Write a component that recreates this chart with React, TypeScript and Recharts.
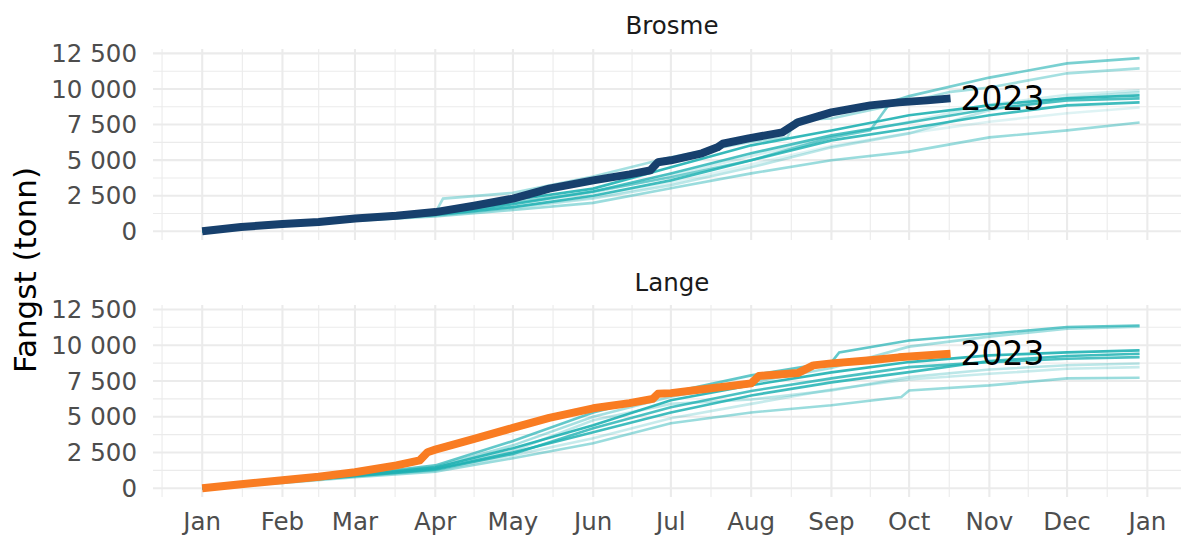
import { CartesianGrid, LabelList, Line, LineChart, XAxis, YAxis } from "recharts";

type Pt = [number, number];

// x = day of year, y = cumulative catch in tonnes
const monthTicks = [0, 31, 59, 90, 120, 151, 181, 212, 243, 273, 304, 334, 365];
const monthLabels = ["Jan", "Feb", "Mar", "Apr", "May", "Jun", "Jul", "Aug", "Sep", "Oct", "Nov", "Dec", "Jan"];
const yTicks = [0, 2500, 5000, 7500, 10000, 12500];

const brosme2023: Pt[] = [
  [0, 0], [15, 300], [31, 520], [45, 650], [59, 900], [75, 1100], [90, 1350], [105, 1800],
  [120, 2300], [134, 3000], [151, 3580], [165, 4000], [173, 4280], [176, 4850], [181, 4990],
  [193, 5480], [199, 5900], [201, 6150], [211, 6530], [224, 6950], [230, 7650], [243, 8360],
  [258, 8850], [269, 9060], [280, 9200], [289, 9340],
];

const brosmeA: Pt[] = [[0, 0], [31, 450], [59, 850], [90, 1250], [120, 2000], [151, 2800], [181, 3800], [212, 5000], [243, 6600], [258, 7100], [266, 9100], [273, 9500], [304, 10800], [334, 11800], [362, 12170]];
const brosmeB: Pt[] = [[0, 0], [31, 500], [59, 900], [90, 1300], [93, 2300], [120, 2700], [151, 3850], [181, 5200], [212, 6300], [226, 6600], [229, 7800], [243, 7930], [273, 9100], [289, 9800], [304, 10100], [334, 11100], [362, 11450]];
const brosmeC: Pt[] = [[0, 0], [31, 480], [59, 880], [90, 1300], [120, 2200], [151, 3000], [181, 4500], [212, 6040], [243, 7090], [273, 8150], [304, 8850], [334, 9350], [362, 9550]];
const brosmeD: Pt[] = [[0, 0], [31, 450], [59, 820], [90, 1200], [120, 1900], [151, 2800], [181, 4070], [212, 5480], [243, 6740], [273, 7650], [304, 8600], [334, 9200], [362, 9340]];
const brosmeE: Pt[] = [[0, 0], [31, 420], [59, 800], [90, 1150], [120, 1700], [151, 2500], [181, 3580], [212, 4990], [243, 6390], [273, 7230], [304, 8150], [334, 8850], [362, 9060]];
const brosmeF: Pt[] = [[0, 0], [31, 400], [59, 780], [90, 1100], [120, 1650], [151, 2300], [181, 3230], [212, 4500], [243, 5900], [273, 6880], [304, 8500], [334, 9400], [362, 9760]];
const brosmeG: Pt[] = [[0, 0], [31, 430], [59, 800], [90, 1150], [120, 1700], [151, 2400], [181, 3400], [212, 4700], [243, 6000], [273, 6900], [304, 7700], [334, 8300], [362, 8700]];
const brosmeH: Pt[] = [[0, 0], [31, 380], [59, 750], [90, 1050], [120, 1500], [151, 2000], [181, 3020], [212, 4070], [243, 4990], [273, 5600], [304, 6600], [334, 7090], [362, 7650]];
const brosmeI: Pt[] = [[0, 0], [31, 470], [59, 850], [90, 1250], [120, 1900], [151, 2700], [181, 3900], [212, 5300], [243, 6600], [273, 7700], [304, 8900], [334, 9600], [362, 9900]];

const lange2023: Pt[] = [
  [0, 0], [15, 280], [31, 560], [45, 800], [59, 1120], [75, 1600], [84, 1950], [87, 2520],
  [90, 2700], [105, 3450], [120, 4220], [134, 4920], [151, 5590], [165, 5950], [174, 6250],
  [176, 6600], [181, 6650], [195, 6950], [212, 7330], [215, 7850], [230, 8050], [236, 8590],
  [243, 8730], [258, 8950], [269, 9150], [289, 9400],
];

const langeA: Pt[] = [[0, 0], [31, 480], [59, 950], [90, 1600], [120, 3300], [151, 5300], [181, 6700], [212, 7890], [243, 8800], [246, 9500], [273, 10330], [304, 10800], [334, 11270], [362, 11380]];
const langeB: Pt[] = [[0, 0], [31, 460], [59, 920], [90, 1500], [120, 3000], [151, 5000], [181, 6400], [212, 7400], [243, 8400], [273, 9900], [304, 10600], [334, 11150], [362, 11300]];
const langeC: Pt[] = [[0, 0], [31, 450], [59, 900], [90, 1450], [120, 2800], [151, 4400], [181, 6150], [212, 7200], [243, 8100], [273, 8820], [304, 9290], [334, 9500], [362, 9640]];
const langeD: Pt[] = [[0, 0], [31, 430], [59, 870], [90, 1350], [120, 2500], [151, 3910], [181, 5300], [212, 6490], [243, 7400], [273, 8120], [304, 8900], [334, 9250], [362, 9400]];
const langeE: Pt[] = [[0, 0], [31, 420], [59, 850], [90, 1300], [120, 2400], [151, 4200], [181, 5660], [212, 6800], [243, 7680], [273, 8470], [304, 8820], [334, 9050], [362, 9170]];
const langeF: Pt[] = [[0, 0], [31, 440], [59, 880], [90, 1400], [120, 2600], [151, 4750], [181, 5900], [212, 6200], [243, 6840], [273, 7770], [304, 8300], [334, 8600], [362, 8720]];
const langeG: Pt[] = [[0, 0], [31, 410], [59, 830], [90, 1250], [120, 2300], [151, 3490], [181, 4890], [212, 5900], [243, 6900], [273, 7600], [304, 8000], [334, 8350], [362, 8470]];
const langeH: Pt[] = [[0, 0], [31, 380], [59, 780], [90, 1150], [120, 2100], [151, 3140], [181, 4540], [212, 5300], [243, 5800], [270, 6380], [273, 6840], [304, 7190], [334, 7680], [362, 7730]];

// opacities of the earlier years, same order as the arrays
const brosmeHist = [brosmeA, brosmeB, brosmeC, brosmeD, brosmeE, brosmeF, brosmeG, brosmeH, brosmeI];
const brosmeAlpha = [0.6, 0.4, 0.9, 0.8, 0.85, 0.3, 0.15, 0.45, 0.2];
const langeHist = [langeA, langeB, langeC, langeD, langeE, langeF, langeG, langeH];
const langeAlpha = [0.7, 0.4, 0.9, 0.85, 0.8, 0.3, 0.25, 0.45];

const FONT = "DejaVu Sans, sans-serif";
const TEAL = "#1fb1b3";
const GRID = "#ebebeb";
const X_DOMAIN = [-19, 378];
const Y_DOMAIN = [-610, 12810];

const minorX = [monthTicks[0] - 15.5, ...monthTicks.slice(1).map((d, i) => (d + monthTicks[i]) / 2)];
const minorY = yTicks.slice(1).map((v, i) => (v + yTicks[i]) / 2);

const toRows = (pts: Pt[]) => pts.map(([day, tonn]) => ({ day, tonn }));
const fmt = (v: number) => String(v).replace(/\B(?=(\d{3})+(?!\d))/g, " ");

type PanelProps = {
  hist: Pt[][];
  alpha: number[];
  current: Pt[];
  color: string;
  height: number;
  margin: { top: number; right: number; bottom: number; left: number };
  showX: boolean;
};

const Panel = ({ hist, alpha, current, color, height, margin, showX }: PanelProps) => {
  const cur = toRows(current);
  return (
    <LineChart width={1187} height={height} margin={margin}>
      <CartesianGrid
        stroke={GRID}
        strokeWidth={1.1}
        verticalValues={minorX}
        horizontalValues={minorY}
      />
      <CartesianGrid
        stroke={GRID}
        strokeWidth={2.1}
        verticalValues={monthTicks}
        horizontalValues={yTicks}
      />
      <XAxis
        dataKey="day"
        type="number"
        domain={X_DOMAIN}
        ticks={monthTicks}
        interval={0}
        allowDataOverflow
        hide={!showX}
        height={38}
        axisLine={false}
        tickLine={false}
        tickSize={0}
        tickMargin={16}
        tickFormatter={(v: number) => monthLabels[monthTicks.indexOf(v)]}
        tick={{ fill: "#4d4d4d", fontSize: 24.5, fontFamily: FONT }}
      />
      <YAxis
        type="number"
        domain={Y_DOMAIN}
        ticks={yTicks}
        interval={0}
        allowDataOverflow
        width={153}
        axisLine={false}
        tickLine={false}
        tickSize={0}
        tickMargin={16}
        tickFormatter={fmt}
        tick={{ fill: "#4d4d4d", fontSize: 24.5, fontFamily: FONT }}
      />
      {hist.map((pts, i) => (
        <Line
          key={i}
          data={toRows(pts)}
          dataKey="tonn"
          type="linear"
          stroke={TEAL}
          strokeOpacity={alpha[i]}
          strokeWidth={2.6}
          dot={false}
          activeDot={false}
          isAnimationActive={false}
        />
      ))}
      <Line
        data={cur}
        dataKey="tonn"
        type="linear"
        stroke={color}
        strokeWidth={8}
        strokeLinejoin="round"
        dot={false}
        activeDot={false}
        isAnimationActive={false}
      >
        <LabelList
          dataKey="tonn"
          content={(p: any) =>
            p.index === cur.length - 1 ? (
              <text
                x={p.x + 10}
                y={p.y}
                dominantBaseline="central"
                fontSize={33}
                fontFamily={FONT}
                fill="#000"
              >
                2023
              </text>
            ) : null
          }
        />
      </Line>
    </LineChart>
  );
};

export default function App() {
  return (
    <div
      style={{
        position: "absolute",
        left: 0,
        top: 0,
        width: 1187,
        height: 535,
        background: "#fff",
        fontFamily: FONT,
      }}
    >
      <div style={{ position: "absolute", left: 0, top: 0 }}>
        <Panel
          hist={brosmeHist}
          alpha={brosmeAlpha}
          current={brosme2023}
          color="#17406d"
          height={250}
          margin={{ top: 49, right: 6, bottom: 10, left: 0 }}
          showX={false}
        />
      </div>
      <div style={{ position: "absolute", left: 0, top: 255 }}>
        <Panel
          hist={langeHist}
          alpha={langeAlpha}
          current={lange2023}
          color="#f97c22"
          height={280}
          margin={{ top: 50, right: 6, bottom: 0, left: 0 }}
          showX={true}
        />
      </div>
      <svg
        width={1187}
        height={535}
        style={{ position: "absolute", left: 0, top: 0, pointerEvents: "none" }}
      >
        <text x={672} y={25} textAnchor="middle" dominantBaseline="central" fontSize={24.5} fontFamily={FONT} fill="#1a1a1a">
          Brosme
        </text>
        <text x={672} y={282} textAnchor="middle" dominantBaseline="central" fontSize={24.5} fontFamily={FONT} fill="#1a1a1a">
          Lange
        </text>
        <text
          transform="translate(25 270) rotate(-90)"
          textAnchor="middle"
          dominantBaseline="central"
          fontSize={31}
          fontFamily={FONT}
          fill="#000"
        >
          Fangst (tonn)
        </text>
      </svg>
    </div>
  );
}
